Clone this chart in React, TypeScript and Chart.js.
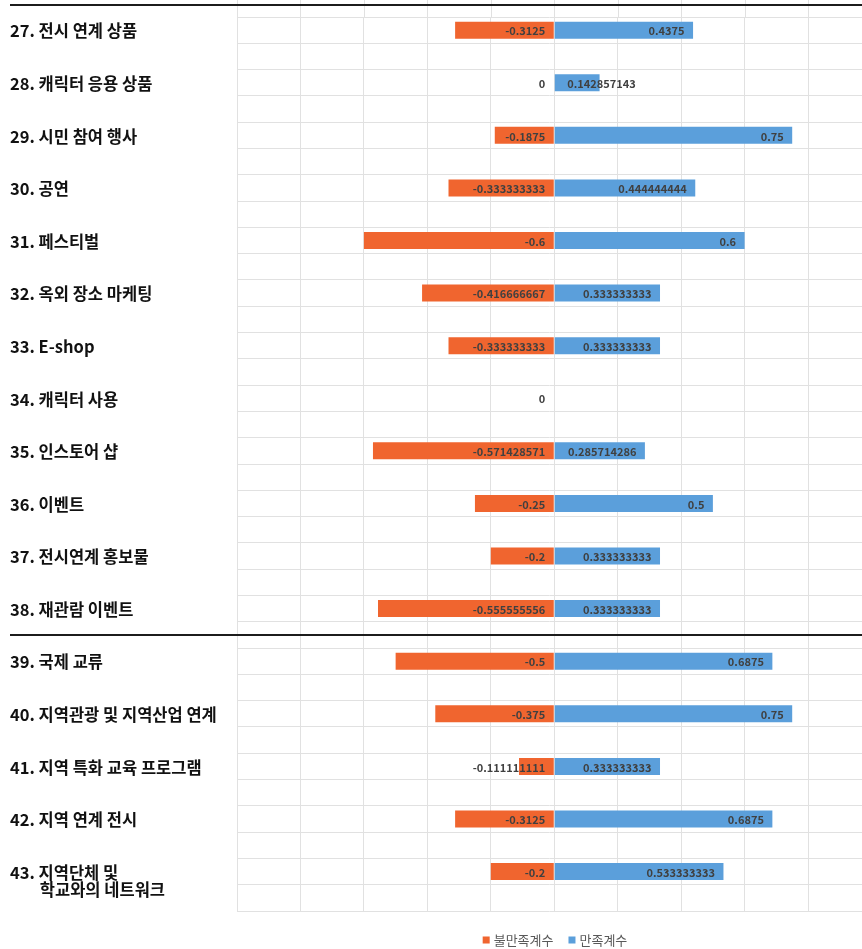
import React, { useEffect, useRef } from "react";
import { Chart, registerables } from "chart.js";

Chart.register(...registerables);

const categories: string[][] = [
  ["27. 전시 연계 상품"],
  ["28. 캐릭터 응용 상품"],
  ["29. 시민 참여 행사"],
  ["30. 공연"],
  ["31. 페스티벌"],
  ["32. 옥외 장소 마케팅"],
  ["33. E-shop"],
  ["34. 캐릭터 사용"],
  ["35. 인스토어 샵"],
  ["36. 이벤트"],
  ["37. 전시연계 홍보물"],
  ["38. 재관람 이벤트"],
  ["39. 국제 교류"],
  ["40. 지역관광 및 지역산업 연계"],
  ["41. 지역 특화 교육 프로그램"],
  ["42. 지역 연계 전시"],
  ["43. 지역단체 및", "학교와의 네트워크"],
];

const dissatisfaction: (number | null)[] = [
  -0.3125, 0, -0.1875, -0.333333333, -0.6, -0.416666667, -0.333333333, 0,
  -0.571428571, -0.25, -0.2, -0.555555556, -0.5, -0.375, -0.111111111, -0.3125, -0.2,
];

const satisfaction: (number | null)[] = [
  0.4375, 0.142857143, 0.75, 0.444444444, 0.6, 0.333333333, 0.333333333, null,
  0.285714286, 0.5, 0.333333333, 0.333333333, 0.6875, 0.75, 0.333333333, 0.6875, 0.533333333,
];

const seriesNames = ["불만족계수", "만족계수"];
const seriesColors = ["#F0652F", "#5B9FDB"];
const xTicks = [-1, -0.8, -0.6, -0.4, -0.2, 0, 0.2, 0.4, 0.6, 0.8];

// each category occupies one row followed by one empty spreadsheet row
const rowLabels = categories.flatMap((c) => [c.join(" "), ""]);
const rowDis = dissatisfaction.flatMap((v) => [v, null]);
const rowSat = satisfaction.flatMap((v) => [v, null]);

const GRID = "#e1e1e1";
const FONT = "'Noto Sans CJK KR', 'Noto Sans', sans-serif";

const fmt = (v: number) => String(Number(v.toFixed(9)));

const overlay = {
  id: "overlay",
  beforeDatasetsDraw(chart: any) {
    const { ctx, chartArea, scales } = chart;
    const x = scales.x;
    ctx.save();
    ctx.strokeStyle = GRID;
    ctx.lineWidth = 1;
    xTicks.forEach((t) => {
      const px = Math.round(x.getPixelForValue(t)) + 0.5;
      ctx.beginPath();
      ctx.moveTo(px, 0);
      ctx.lineTo(px, chartArea.top);
      ctx.stroke();
    });
    ctx.restore();
  },
  afterDatasetsDraw(chart: any) {
    const { ctx, scales } = chart;
    const x = scales.x;
    const y = scales.y;
    const zero = x.getPixelForValue(0);
    ctx.save();
    ctx.font = `bold 11px ${FONT}`;
    ctx.fillStyle = "#404040";
    ctx.textBaseline = "middle";
    ctx.textAlign = "left";
    rowDis.forEach((v, i) => {
      if (v === null) return;
      const cy = y.getPixelForValue(i) + 1;
      const t = fmt(v);
      const w = ctx.measureText(t).width;
      ctx.fillText(t, zero - 9 - w, cy);
    });
    rowSat.forEach((v, i) => {
      if (v === null) return;
      const cy = y.getPixelForValue(i) + 1;
      const t = fmt(v);
      const w = ctx.measureText(t).width;
      const end = x.getPixelForValue(v);
      const right = Math.max(end - 8.5, zero + 13 + w);
      ctx.fillText(t, right - w, cy);
    });
    ctx.restore();
  },
  afterDraw(chart: any) {
    const { ctx, scales, chartArea, width } = chart;
    const y = scales.y;
    ctx.save();
    // category labels
    ctx.font = `bold 16.5px ${FONT}`;
    ctx.fillStyle = "#111111";
    ctx.textBaseline = "middle";
    ctx.textAlign = "left";
    categories.forEach((lines, k) => {
      const cy = y.getPixelForValue(k * 2) + 1;
      const prefix = lines[0].split(" ")[0];
      const indent = ctx.measureText(prefix).width + 5;
      lines.forEach((line, j) => {
        ctx.fillText(line, 10 + (j > 0 ? indent : 0), cy + j * 17);
      });
    });
    // black rules (top border and separator after 38)
    ctx.strokeStyle = "#1c1c1c";
    ctx.lineWidth = 2;
    const rules = [chartArea.top - 12, y.getPixelForValue(23)];
    rules.forEach((ry) => {
      ctx.beginPath();
      ctx.moveTo(10, Math.round(ry));
      ctx.lineTo(width, Math.round(ry));
      ctx.stroke();
    });
    // legend
    ctx.font = `13px ${FONT}`;
    const box = 7;
    const gap = 4;
    const itemGap = 15;
    const widths = seriesNames.map((n) => ctx.measureText(n).width);
    const total =
      widths.reduce((a, b) => a + b, 0) + seriesNames.length * (box + gap) + itemGap * (seriesNames.length - 1);
    let lx = 555 - total / 2;
    const ly = 940;
    seriesNames.forEach((n, i) => {
      ctx.fillStyle = seriesColors[i];
      ctx.fillRect(lx, ly - 3.5, box, box);
      lx += box + gap;
      ctx.fillStyle = "#595959";
      ctx.fillText(n, lx, ly);
      lx += widths[i] + itemGap;
    });
    ctx.restore();
  },
};

export default function App() {
  const ref = useRef<HTMLCanvasElement | null>(null);
  useEffect(() => {
    if (!ref.current) return;
    const chart = new Chart(ref.current, {
      type: "bar",
      data: {
        labels: rowLabels,
        datasets: [
          {
            label: seriesNames[0],
            data: rowDis,
            backgroundColor: seriesColors[0],
            borderWidth: 0,
            inflateAmount: 0,
            barThickness: 17,
          },
          {
            label: seriesNames[1],
            data: rowSat,
            backgroundColor: seriesColors[1],
            borderWidth: 0,
            inflateAmount: 0,
            barThickness: 17,
          },
        ],
      },
      options: {
        indexAxis: "y",
        animation: false,
        responsive: false,
        maintainAspectRatio: false,
        layout: { padding: { top: 17, bottom: 38, left: 0, right: 0 } },
        plugins: { legend: { display: false }, tooltip: { enabled: false } },
        scales: {
          x: {
            type: "linear",
            min: -1,
            max: 0.97,
            stacked: true,
            afterBuildTicks: (s: any) => {
              s.ticks = xTicks.map((v) => ({ value: v }));
            },
            ticks: { display: false },
            grid: { color: GRID, drawTicks: false },
            border: { display: false },
            afterFit: (s: any) => {
              s.height = 0;
            },
          },
          y: {
            type: "category",
            stacked: true,
            offset: true,
            ticks: { display: false },
            grid: { color: GRID, drawTicks: false, offset: true },
            border: { display: false },
            afterFit: (s: any) => {
              s.width = 237;
            },
          },
        },
      },
      plugins: [overlay],
    } as any);
    return () => chart.destroy();
  }, []);
  return (
    <div style={{ position: "absolute", left: 0, top: 0, width: 862, height: 949, background: "#fff" }}>
      <canvas ref={ref} width={862} height={949} style={{ width: 862, height: 949 }} />
    </div>
  );
}
